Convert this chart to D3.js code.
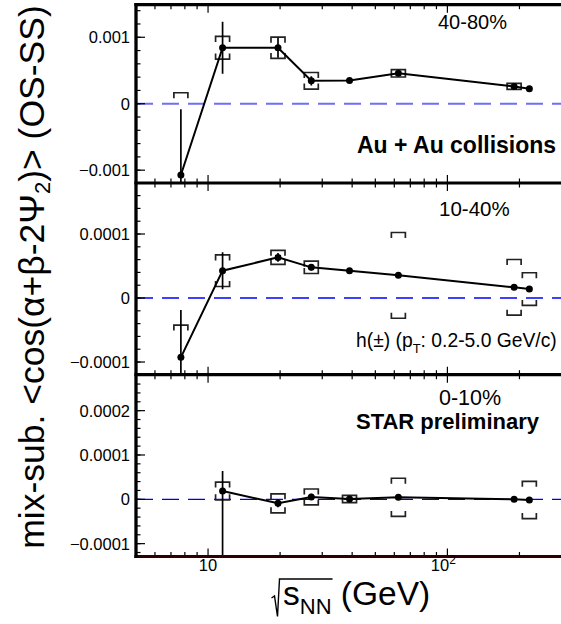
<!DOCTYPE html>
<html>
<head>
<meta charset="utf-8">
<script src="https://cdn.jsdelivr.net/npm/d3@7"></script>
<style>
  body { margin: 0; background: #fff; }
  svg { display: block; font-family: "Liberation Sans", Arial, Helvetica, sans-serif; }
</style>
</head>
<body>
<div id="chart"></div>
<script>
// beam energies (GeV)
const energies = [7.7, 11.5, 19.6, 27, 39, 62.4, 190, 220];

// 40-80%
const periphVal  = [-1.073e-3, 0.842e-3, 0.842e-3, 0.345e-3, 0.351e-3, 0.457e-3, 0.260e-3, 0.226e-3];
const periphStat = [0.99e-3, 0.39e-3, 0.15e-3, 0.07e-3, 0.015e-3, 0.035e-3, 0.015e-3, 0.01e-3];
const periphSys  = [1.238e-3, 0.17e-3, 0.16e-3, 0.125e-3, 0, 0.055e-3, 0.045e-3, 0];

// 10-40%
const midVal  = [-0.927e-4, 0.427e-4, 0.635e-4, 0.479e-4, 0.427e-4, 0.354e-4, 0.167e-4, 0.14e-4];
const midStat = [0.74e-4, 0.29e-4, 0.07e-4, 0.05e-4, 0.02e-4, 0.02e-4, 0.02e-4, 0.02e-4];
const midSys  = [0.505e-4, 0.247e-4, 0.11e-4, 0.096e-4, 0, 0.67e-4, 0.435e-4, 0.255e-4];

// 0-10% (no 7.7 GeV point)
const centVal     = [null, 0.188e-4, -0.09e-4, 0.053e-4, 0.008e-4, 0.045e-4, 0, -0.015e-4];
const centStat    = [null, 0.45e-4, 0.09e-4, 0.07e-4, 0.02e-4, 0.02e-4, 0.01e-4, 0.01e-4];
const centStatLow = [null, 2.0e-4, 0.09e-4, 0.07e-4, 0.02e-4, 0.02e-4, 0.01e-4, 0.01e-4];
const centSys     = [null, 0.2e-4, 0.214e-4, 0.18e-4, 0.083e-4, 0.43e-4, 0, 0.42e-4];

// tick labels
const periphTicks = [-0.001, 0, 0.001];
const periphTickLabels = ["\u22120.001", "0", "0.001"];
const midTicks = [-0.0001, 0, 0.0001];
const midTickLabels = ["\u22120.0001", "0", "0.0001"];
const centTicks = [-0.0001, 0, 0.0001, 0.0002];
const centTickLabels = ["\u22120.0001", "0", "0.0001", "0.0002"];
const xMajorTicks = [10, 100];
const xMinorTicks = [6, 7, 8, 9, 20, 30, 40, 50, 60, 70, 80, 90, 200, 300];

const width = 561, height = 624;
const left = 136, right = 565;

const svg = d3.select("#chart").append("svg")
  .attr("width", width)
  .attr("height", height);

const x = d3.scaleLog().domain([5, 310]).range([left, right]);

const panels = [
  { id: "p1", top: 4.7, bottom: 183, domain: [-0.001193, 0.00149],
    vals: periphVal, stat: periphStat, statLow: periphStat, sys: periphSys,
    ticks: periphTicks, labels: periphTickLabels, minor: 0.0002,
    zeroColor: "#6e6ef6", zeroWidth: 2 },
  { id: "p2", top: 183, bottom: 374.7, domain: [-1.198e-4, 1.797e-4],
    vals: midVal, stat: midStat, statLow: midStat, sys: midSys,
    ticks: midTicks, labels: midTickLabels, minor: 0.2e-4,
    zeroColor: "#0000ff", zeroWidth: 1.5 },
  { id: "p3", top: 374.7, bottom: 556.5, domain: [-1.29e-4, 2.811e-4],
    vals: centVal, stat: centStat, statLow: centStatLow, sys: centSys,
    ticks: centTicks, labels: centTickLabels, minor: 0.2e-4,
    zeroColor: "#0000e6", zeroWidth: 1.3 }
];

panels.forEach(p => {
  const y = d3.scaleLinear().domain(p.domain).range([p.bottom, p.top]);

  svg.append("clipPath").attr("id", "clip-" + p.id)
    .append("rect")
    .attr("x", left).attr("y", p.top)
    .attr("width", width - left).attr("height", p.bottom - p.top);

  const g = svg.append("g").attr("clip-path", `url(#clip-${p.id})`);

  g.append("line")
    .attr("x1", left).attr("x2", width)
    .attr("y1", y(0)).attr("y2", y(0))
    .attr("stroke", p.zeroColor)
    .attr("stroke-width", p.zeroWidth)
    .attr("stroke-dasharray", "17,9");

  const pts = energies.map((e, i) => ({
    e, v: p.vals[i], st: p.stat[i], stl: p.statLow[i], sy: p.sys[i]
  })).filter(d => d.v != null);

  // systematic brackets
  g.selectAll(".sys")
    .data(pts.filter(d => d.sy > 0))
    .enter()
    .append("path")
    .attr("class", "sys")
    .attr("fill", "none")
    .attr("stroke", "#222")
    .attr("stroke-width", 1.7)
    .attr("d", d => {
      const cx = x(d.e), hw = 7;
      const yHi = y(d.v + d.sy), yLo = y(d.v - d.sy);
      const leg = Math.min(5.5, (yLo - yHi) / 2);
      return `M${cx - hw},${yHi + leg}L${cx - hw},${yHi}L${cx + hw},${yHi}L${cx + hw},${yHi + leg}` +
             `M${cx - hw},${yLo - leg}L${cx - hw},${yLo}L${cx + hw},${yLo}L${cx + hw},${yLo - leg}`;
    });

  // statistical error bars
  g.selectAll(".stat")
    .data(pts)
    .enter()
    .append("line")
    .attr("class", "stat")
    .attr("x1", d => x(d.e)).attr("x2", d => x(d.e))
    .attr("y1", d => y(d.v + d.st))
    .attr("y2", d => y(d.v - d.stl))
    .attr("stroke", "#000")
    .attr("stroke-width", 1.7);

  g.append("path")
    .datum(pts)
    .attr("fill", "none")
    .attr("stroke", "#000")
    .attr("stroke-width", 2)
    .attr("d", d3.line().x(d => x(d.e)).y(d => y(d.v)));

  g.selectAll(".pt")
    .data(pts)
    .enter()
    .append("circle")
    .attr("class", "pt")
    .attr("cx", d => x(d.e))
    .attr("cy", d => y(d.v))
    .attr("r", 3.5)
    .attr("fill", "#000");

  // y ticks
  const minors = d3.range(Math.ceil(p.domain[0] / p.minor), Math.floor(p.domain[1] / p.minor) + 1)
    .map(k => k * p.minor);
  svg.append("g").selectAll("line")
    .data(minors)
    .enter()
    .append("line")
    .attr("x1", left).attr("x2", left + 4.5)
    .attr("y1", d => y(d)).attr("y2", d => y(d))
    .attr("stroke", "#000").attr("stroke-width", 1.2);
  svg.append("g").selectAll("line")
    .data(p.ticks)
    .enter()
    .append("line")
    .attr("x1", left).attr("x2", left + 9)
    .attr("y1", d => y(d)).attr("y2", d => y(d))
    .attr("stroke", "#000").attr("stroke-width", 1.2);
  svg.append("g").selectAll("text")
    .data(p.ticks)
    .enter()
    .append("text")
    .attr("x", left - 6)
    .attr("y", d => y(d))
    .attr("dy", "0.36em")
    .attr("text-anchor", "end")
    .style("font-size", "16.5px")
    .text((d, i) => p.labels[i]);

  // x ticks on top and bottom edge of each panel
  [[p.top, 1], [p.bottom, -1]].forEach(([yy, dir]) => {
    svg.append("g").selectAll("line")
      .data(xMinorTicks.map(v => ({ v, len: 4.5 })).concat(xMajorTicks.map(v => ({ v, len: 8 }))))
      .enter()
      .append("line")
      .attr("x1", d => x(d.v)).attr("x2", d => x(d.v))
      .attr("y1", yy).attr("y2", d => yy + dir * d.len)
      .attr("stroke", "#000").attr("stroke-width", 1.2);
  });
});

// frame
const borders = [4.7, 183, 374.7];
svg.selectAll(".border")
  .data(borders)
  .enter()
  .append("line")
  .attr("x1", left - 1.6).attr("x2", width)
  .attr("y1", d => d).attr("y2", d => d)
  .attr("stroke", "#000").attr("stroke-width", 3.2);
svg.append("line")
  .attr("x1", left - 1.6).attr("x2", width)
  .attr("y1", 556.5).attr("y2", 556.5)
  .attr("stroke", "#2e0000").attr("stroke-width", 3.2);
svg.append("line")
  .attr("x1", left).attr("x2", left)
  .attr("y1", 3.1).attr("y2", 558.1)
  .attr("stroke", "#000").attr("stroke-width", 3.3);

// x tick labels
const xl = svg.append("g").style("font-size", "16.5px");
xl.append("text").attr("x", x(10)).attr("y", 571).attr("text-anchor", "middle").text("10");
const t100 = xl.append("text").attr("x", x(100) - 4).attr("y", 571).attr("text-anchor", "middle");
t100.append("tspan").text("10");
t100.append("tspan").attr("dy", -7).style("font-size", "12px").text("2");

// panel texts
svg.append("text").attr("x", 438).attr("y", 29).style("font-size", "20px").text("40-80%");
svg.append("text").attr("x", 357).attr("y", 153).style("font-size", "23px")
  .style("font-weight", "bold").text("Au + Au collisions");
svg.append("text").attr("x", 439).attr("y", 216).style("font-size", "20.5px").text("10-40%");
const hTxt = svg.append("text").attr("x", 356).attr("y", 346.5).style("font-size", "19.3px");
hTxt.append("tspan").text("h(\u00b1) (p");
hTxt.append("tspan").attr("dy", 6).style("font-size", "13px").text("T");
hTxt.append("tspan").attr("dy", -6).text(": 0.2-5.0 GeV/c)");
svg.append("text").attr("x", 439).attr("y", 404.5).style("font-size", "21.5px").text("0-10%");
svg.append("text").attr("x", 356).attr("y", 428.5).style("font-size", "22px")
  .style("font-weight", "bold").text("STAR preliminary");

// y title
const yt = svg.append("text")
  .attr("transform", "translate(44,277) rotate(-90)")
  .attr("text-anchor", "middle")
  .style("font-size", "35.5px");
yt.append("tspan").text("mix-sub. <cos(\u03b1+\u03b2-2\u03a8");
yt.append("tspan").attr("dy", 6).style("font-size", "22px").text("2");
yt.append("tspan").attr("dy", -6).text(")> (OS-SS)");

// x title with radical sign
const xt = svg.append("text").attr("x", 283).attr("y", 605).style("font-size", "33.5px");
const sT = xt.append("tspan").text("s");
const nnT = xt.append("tspan").attr("dy", 9).style("font-size", "22px").text("NN");
xt.append("tspan").attr("dy", -9).text(" (GeV)");
const barEnd = 283 + sT.node().getComputedTextLength() + nnT.node().getComputedTextLength() + 1;
svg.append("path")
  .attr("fill", "none")
  .attr("stroke", "#000")
  .attr("stroke-width", 1.4)
  .attr("d", `M271.5,598L274.5,596L277.5,616.5L279.5,579L${barEnd},579`);
</script>
</body>
</html>
